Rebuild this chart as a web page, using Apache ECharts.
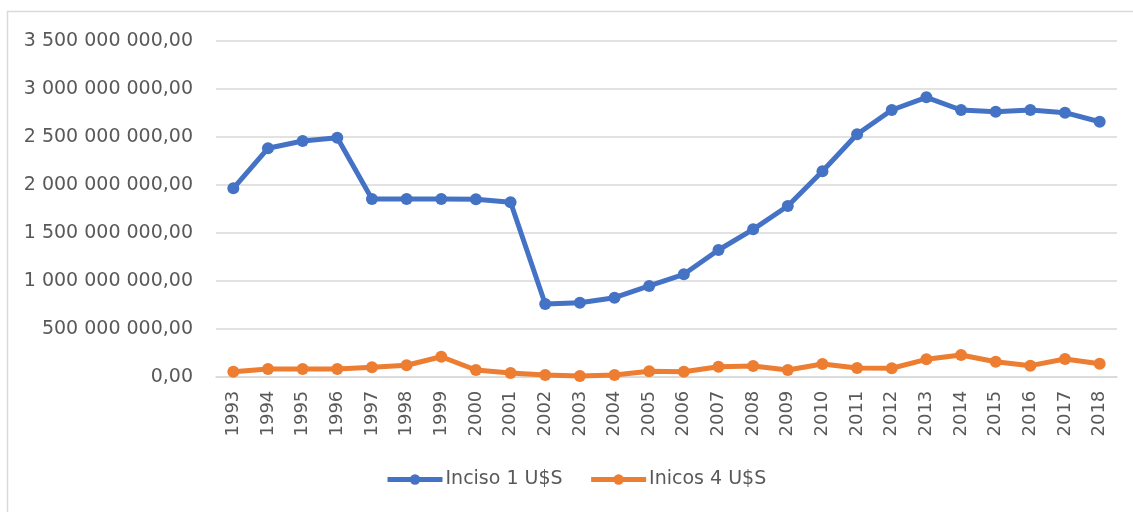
<!DOCTYPE html>
<html lang="es">

<head>
  <meta charset="UTF-8">
  <title>Inciso 1 / Incisos 4 U$S</title>
  <style>
    html, body { margin: 0; padding: 0; background: #fff; }
    #root { width: 1133px; height: 512px; }
  </style>
</head>

<body>
  <div id="root"></div>
</body>
<script src="https://cdn.jsdelivr.net/npm/echarts@6/dist/echarts.min.js"></script>
<script>
  // años
  const years = ['1993', '1994', '1995', '1996', '1997', '1998', '1999', '2000', '2001', '2002', '2003', '2004', '2005',
    '2006', '2007', '2008', '2009', '2010', '2011', '2012', '2013', '2014', '2015', '2016', '2017', '2018']

  // valores (U$S)
  const inciso1 = [1962e6, 2379e6, 2455e6, 2490e6, 1851e6, 1851e6, 1851e6, 1848e6, 1817e6, 757e6, 771e6, 823e6, 945e6,
    1067e6, 1320e6, 1535e6, 1778e6, 2140e6, 2525e6, 2778e6, 2910e6, 2778e6, 2760e6, 2778e6, 2750e6, 2656e6]
  const incisos4 = [52e6, 80e6, 80e6, 80e6, 98e6, 119e6, 208e6, 70e6, 38e6, 18e6, 7e6, 18e6, 56e6,
    52e6, 104e6, 111e6, 70e6, 132e6, 91e6, 88e6, 181e6, 226e6, 156e6, 115e6, 184e6, 135e6]

  const seriesNames = ['Inciso 1 U$S', 'Inicos 4 U$S']
  const colors = ['#4472C4', '#ED7D31']

  // formato "3 500 000 000,00"
  function fmt(v) {
    let s = Math.round(v).toString().replace(/\B(?=(\d{3})+(?!\d))/g, ' ')
    return s + ',00'
  }

  const font = 'DejaVu Sans'
  let myChart = echarts.init(document.getElementById('root'))

  function lineSeries(name, data, color) {
    return {
      name: name,
      type: 'line',
      data: data,
      symbol: 'circle',
      symbolSize: 12,
      lineStyle: { color: color, width: 5 },
      itemStyle: { color: color },
      emphasis: { disabled: true },
      animation: false
    }
  }

  let option = {
    color: colors,
    textStyle: { fontFamily: font },
    graphic: [
      { type: 'line', shape: { x1: 7, y1: 11.5, x2: 1133, y2: 11.5 }, style: { stroke: '#d9d9d9', lineWidth: 1.5 } },
      { type: 'line', shape: { x1: 7.5, y1: 11, x2: 7.5, y2: 512 }, style: { stroke: '#d9d9d9', lineWidth: 1.5 } }
    ],
    grid: { left: 216, right: 16, top: 40.7, bottom: 135.3, containLabel: false },
    legend: {
      data: seriesNames,
      bottom: 18,
      left: 380,
      itemWidth: 55,
      itemHeight: 13,
      itemGap: 26,
      lineStyle: { width: 5 },
      textStyle: { fontFamily: font, fontSize: 19, color: '#595959', padding: [0, 0, 0, -2] }
    },
    xAxis: {
      type: 'category',
      data: years,
      boundaryGap: true,
      axisLine: { lineStyle: { color: '#d9d9d9', width: 1.5 } },
      axisTick: { show: false },
      axisLabel: { rotate: 90, margin: 14, fontFamily: font, fontSize: 18, color: '#595959', interval: 0 }
    },
    yAxis: {
      type: 'value',
      min: 0,
      max: 3500000000,
      interval: 500000000,
      axisLine: { show: false },
      axisTick: { show: false },
      splitLine: { lineStyle: { color: '#d9d9d9', width: 1.5 } },
      axisLabel: { margin: 23, fontFamily: font, fontSize: 19, color: '#595959', formatter: fmt }
    },
    series: [
      lineSeries(seriesNames[0], inciso1, colors[0]),
      lineSeries(seriesNames[1], incisos4, colors[1])
    ]
  }

  myChart.setOption(option)
</script>

</html>
